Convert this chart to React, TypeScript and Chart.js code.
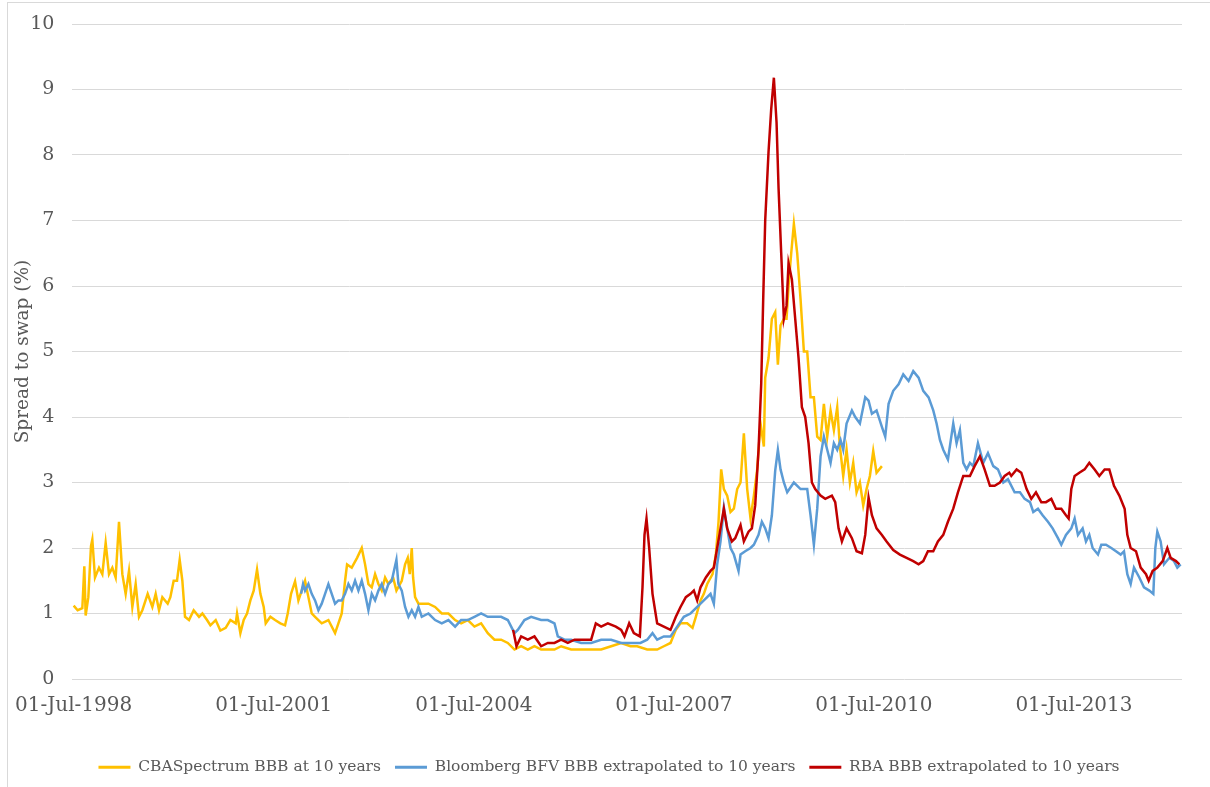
import { useEffect, useRef } from "react"
import { Chart, registerables } from "chart.js"

Chart.register(...registerables)

// x axis: decimal years, labelled every three years
const xTickYears = [1998.5, 2001.5, 2004.5, 2007.5, 2010.5, 2013.5]
const xTickLabels = ["01-Jul-1998", "01-Jul-2001", "01-Jul-2004", "01-Jul-2007", "01-Jul-2010", "01-Jul-2013"]

const seriesLabels = [
  "CBASpectrum BBB at 10 years",
  "Bloomberg BFV BBB extrapolated to 10 years",
  "RBA BBB extrapolated to 10 years",
]

const cbaYears = [
  1998.5, 1998.56, 1998.63, 1998.66, 1998.68, 1998.72, 1998.76, 1998.78, 1998.82, 1998.88, 1998.93, 1998.98,
  1999.03, 1999.08, 1999.13, 1999.18, 1999.23, 1999.28, 1999.33, 1999.38, 1999.43, 1999.48, 1999.53, 1999.61,
  1999.68, 1999.73, 1999.78, 1999.83, 1999.91, 1999.95, 2000.0, 2000.05, 2000.09, 2000.13, 2000.17, 2000.23,
  2000.3, 2000.38, 2000.43, 2000.5, 2000.55, 2000.63, 2000.7, 2000.78, 2000.85, 2000.93, 2000.95, 2001.0,
  2001.05, 2001.1, 2001.15, 2001.2, 2001.25, 2001.3, 2001.35, 2001.38, 2001.45, 2001.52, 2001.6, 2001.67,
  2001.71, 2001.76, 2001.82, 2001.87, 2001.92, 2001.97, 2002.02, 2002.07, 2002.12, 2002.17, 2002.22, 2002.32,
  2002.42, 2002.47, 2002.52, 2002.57, 2002.6, 2002.67, 2002.75, 2002.82, 2002.87, 2002.92, 2002.97, 2003.02,
  2003.07, 2003.12, 2003.17, 2003.22, 2003.29, 2003.34, 2003.42, 2003.47, 2003.51, 2003.54, 2003.57, 2003.59,
  2003.62, 2003.67, 2003.72, 2003.82, 2003.92, 2004.02, 2004.12, 2004.22, 2004.31, 2004.41, 2004.51, 2004.61,
  2004.71, 2004.81, 2004.91, 2005.01, 2005.11, 2005.21, 2005.31, 2005.41, 2005.51, 2005.61, 2005.71, 2005.81,
  2005.96, 2006.11, 2006.26, 2006.41, 2006.56, 2006.71, 2006.85, 2006.95, 2007.1, 2007.25, 2007.35, 2007.45,
  2007.53, 2007.6, 2007.7, 2007.78, 2007.83, 2007.9, 2007.95, 2008.0, 2008.08, 2008.13, 2008.17, 2008.21,
  2008.25, 2008.3, 2008.35, 2008.4, 2008.45, 2008.5, 2008.55, 2008.6, 2008.65, 2008.7, 2008.75, 2008.8,
  2008.85, 2008.87, 2008.92, 2008.97, 2009.02, 2009.06, 2009.1, 2009.15, 2009.19, 2009.22, 2009.26, 2009.3,
  2009.35, 2009.4, 2009.45, 2009.5, 2009.55, 2009.6, 2009.65, 2009.7, 2009.75, 2009.8, 2009.85, 2009.9,
  2009.95, 2009.99, 2010.04, 2010.09, 2010.14, 2010.19, 2010.24, 2010.29, 2010.34, 2010.39, 2010.44, 2010.49,
  2010.54, 2010.62,
]
const cbaSpread = [
  1.12, 1.05, 1.08, 1.72, 0.97, 1.25, 2.03, 2.13, 1.55, 1.7, 1.6, 2.08,
  1.6, 1.7, 1.55, 2.4, 1.6, 1.3, 1.65, 1.1, 1.45, 0.95, 1.05, 1.3,
  1.1, 1.3, 1.05, 1.25, 1.15, 1.25, 1.5, 1.5, 1.82, 1.5, 0.95, 0.9,
  1.05, 0.95, 1.0, 0.9, 0.82, 0.9, 0.74, 0.78, 0.9, 0.85, 1.0, 0.7,
  0.9, 1.0, 1.2, 1.35, 1.67, 1.3, 1.1, 0.85, 0.95, 0.9, 0.85, 0.82,
  1.0, 1.3, 1.49, 1.2, 1.35, 1.5, 1.25, 1.0, 0.95, 0.9, 0.85, 0.9,
  0.7, 0.85, 1.0, 1.5, 1.75, 1.7, 1.85, 2.0, 1.75, 1.45, 1.4, 1.6,
  1.45, 1.35, 1.55, 1.45, 1.55, 1.35, 1.5, 1.75, 1.85, 1.6, 2.0, 1.55,
  1.25, 1.15, 1.15, 1.15, 1.1, 1.0, 1.0, 0.9, 0.85, 0.9, 0.8, 0.85,
  0.7, 0.6, 0.6, 0.55, 0.45, 0.5, 0.45, 0.5, 0.45, 0.45, 0.45, 0.5,
  0.45, 0.45, 0.45, 0.45, 0.5, 0.55, 0.5, 0.5, 0.45, 0.45, 0.5, 0.55,
  0.75, 0.85, 0.85, 0.78, 0.95, 1.2, 1.3, 1.45, 1.6, 1.9, 2.4, 3.2,
  2.9, 2.8, 2.55, 2.6, 2.9, 3.0, 3.75, 2.9, 2.45, 2.8, 3.2, 3.9,
  3.55, 4.6, 4.9, 5.5, 5.6, 4.8, 5.4, 5.5, 5.5, 6.0, 6.5, 6.95,
  6.5, 5.8, 5.0, 5.0, 4.3, 4.3, 3.7, 3.65, 4.2, 3.7, 4.1, 3.8,
  4.15, 3.55, 3.1, 3.5, 3.0, 3.3, 2.85, 3.0, 2.65, 2.9, 3.1, 3.48,
  3.15, 3.25,
]

const bbgYears = [
  2001.91, 2001.94, 2001.97, 2002.02, 2002.07, 2002.12, 2002.17, 2002.22, 2002.27, 2002.32, 2002.37, 2002.42,
  2002.47, 2002.52, 2002.57, 2002.62, 2002.67, 2002.72, 2002.77, 2002.82, 2002.87, 2002.92, 2002.97, 2003.02,
  2003.07, 2003.12, 2003.17, 2003.22, 2003.27, 2003.34, 2003.37, 2003.42, 2003.47, 2003.52, 2003.57, 2003.62,
  2003.67, 2003.72, 2003.82, 2003.92, 2004.02, 2004.12, 2004.22, 2004.31, 2004.41, 2004.51, 2004.61, 2004.71,
  2004.81, 2004.91, 2005.01, 2005.11, 2005.16, 2005.26, 2005.36, 2005.51, 2005.61, 2005.71, 2005.76, 2005.86,
  2005.96, 2006.11, 2006.26, 2006.41, 2006.56, 2006.71, 2006.85, 2007.0, 2007.1, 2007.18, 2007.25, 2007.35,
  2007.45, 2007.55, 2007.65, 2007.75, 2007.85, 2007.95, 2008.05, 2008.1, 2008.15, 2008.2, 2008.25, 2008.3,
  2008.35, 2008.4, 2008.47, 2008.5, 2008.57, 2008.65, 2008.7, 2008.77, 2008.82, 2008.87, 2008.92, 2008.97,
  2009.02, 2009.06, 2009.1, 2009.15, 2009.2, 2009.3, 2009.4, 2009.5, 2009.55, 2009.6, 2009.65, 2009.7,
  2009.75, 2009.8, 2009.85, 2009.9, 2009.95, 2010.0, 2010.04, 2010.09, 2010.17, 2010.22, 2010.29, 2010.37,
  2010.42, 2010.47, 2010.54, 2010.62, 2010.67, 2010.72, 2010.79, 2010.87, 2010.94, 2011.02, 2011.09, 2011.17,
  2011.24, 2011.32, 2011.39, 2011.44, 2011.49, 2011.54, 2011.61, 2011.69, 2011.74, 2011.79, 2011.84, 2011.89,
  2011.94, 2011.99, 2012.06, 2012.14, 2012.21, 2012.29, 2012.36, 2012.44, 2012.51, 2012.61, 2012.69, 2012.76,
  2012.84, 2012.89, 2012.96, 2013.03, 2013.11, 2013.18, 2013.26, 2013.31, 2013.38, 2013.46, 2013.51, 2013.56,
  2013.63, 2013.68, 2013.73, 2013.78, 2013.86, 2013.91, 2013.98, 2014.06, 2014.13, 2014.2, 2014.25, 2014.3,
  2014.35, 2014.4, 2014.48, 2014.55, 2014.63, 2014.69, 2014.72, 2014.75, 2014.8, 2014.85, 2014.93, 2015.0,
  2015.05, 2015.1,
]
const bbgSpread = [
  1.3, 1.45, 1.35, 1.45, 1.3, 1.2, 1.05, 1.15, 1.3, 1.45, 1.3, 1.15,
  1.2, 1.2, 1.3, 1.45, 1.35, 1.5, 1.35, 1.5, 1.3, 1.05, 1.3, 1.2,
  1.35, 1.45, 1.3, 1.45, 1.5, 1.82, 1.45, 1.35, 1.1, 0.95, 1.05, 0.95,
  1.1, 0.95, 1.0, 0.9, 0.85, 0.9, 0.8, 0.9, 0.9, 0.95, 1.0, 0.95,
  0.95, 0.95, 0.9, 0.7, 0.75, 0.9, 0.95, 0.9, 0.9, 0.85, 0.65, 0.6,
  0.6, 0.55, 0.55, 0.6, 0.6, 0.55, 0.55, 0.55, 0.6, 0.7, 0.6, 0.65,
  0.65, 0.8, 0.95, 1.0, 1.1, 1.2, 1.3, 1.15, 1.75, 2.1, 2.62, 2.3,
  2.0, 1.9, 1.65, 1.9, 1.95, 2.0, 2.05, 2.2, 2.4, 2.3, 2.15, 2.5,
  3.18, 3.5, 3.2, 3.0, 2.85, 3.0, 2.9, 2.9, 2.5, 2.05, 2.6, 3.4,
  3.7, 3.5, 3.3, 3.6, 3.5, 3.65, 3.5, 3.9, 4.1, 4.0, 3.9, 4.3,
  4.25, 4.05, 4.1, 3.85, 3.7, 4.2, 4.4, 4.5, 4.65, 4.55, 4.7, 4.6,
  4.4, 4.3, 4.1, 3.9, 3.65, 3.5, 3.35, 3.9, 3.6, 3.8, 3.3, 3.2,
  3.3, 3.25, 3.6, 3.3, 3.45, 3.25, 3.2, 3.0, 3.05, 2.85, 2.85, 2.75,
  2.7, 2.55, 2.6, 2.5, 2.4, 2.3, 2.15, 2.05, 2.2, 2.3, 2.45, 2.2,
  2.3, 2.1, 2.2, 2.0, 1.9, 2.05, 2.05, 2.0, 1.95, 1.9, 1.95, 1.6,
  1.45, 1.7, 1.55, 1.4, 1.35, 1.3, 2.0, 2.25, 2.1, 1.75, 1.85, 1.8,
  1.7, 1.75,
]

const rbaYears = [
  2005.09, 2005.14, 2005.21, 2005.31, 2005.41, 2005.51, 2005.61, 2005.71, 2005.81, 2005.91, 2006.01, 2006.11,
  2006.26, 2006.33, 2006.41, 2006.51, 2006.63, 2006.71, 2006.76, 2006.83, 2006.9, 2006.99, 2007.03, 2007.06,
  2007.09, 2007.13, 2007.18, 2007.25, 2007.35, 2007.45, 2007.53, 2007.6, 2007.68, 2007.75, 2007.8, 2007.85,
  2007.9, 2007.98, 2008.05, 2008.1, 2008.15, 2008.2, 2008.25, 2008.3, 2008.37, 2008.42, 2008.5, 2008.55,
  2008.62, 2008.67, 2008.72, 2008.77, 2008.81, 2008.84, 2008.87, 2008.92, 2008.96, 2009.0, 2009.04, 2009.07,
  2009.11, 2009.15, 2009.19, 2009.22, 2009.27, 2009.32, 2009.37, 2009.42, 2009.47, 2009.52, 2009.57, 2009.62,
  2009.7, 2009.77, 2009.87, 2009.92, 2009.97, 2010.02, 2010.09, 2010.17, 2010.24, 2010.32, 2010.37, 2010.42,
  2010.47, 2010.54, 2010.62, 2010.69, 2010.79, 2010.89, 2010.99, 2011.09, 2011.17, 2011.24, 2011.31, 2011.39,
  2011.46, 2011.54, 2011.61, 2011.69, 2011.76, 2011.84, 2011.94, 2012.01, 2012.09, 2012.16, 2012.24, 2012.31,
  2012.39, 2012.46, 2012.53, 2012.56, 2012.64, 2012.71, 2012.79, 2012.86, 2012.93, 2013.01, 2013.08, 2013.16,
  2013.23, 2013.31, 2013.38, 2013.42, 2013.46, 2013.51, 2013.58, 2013.66, 2013.73, 2013.81, 2013.88, 2013.96,
  2014.03, 2014.1, 2014.18, 2014.26, 2014.3, 2014.35, 2014.43, 2014.5, 2014.58, 2014.62, 2014.68, 2014.75,
  2014.83, 2014.9, 2014.95, 2015.03, 2015.08,
]
const rbaSpread = [
  0.75, 0.5, 0.65, 0.6, 0.65, 0.5, 0.55, 0.55, 0.6, 0.55, 0.6, 0.6,
  0.6, 0.85, 0.8, 0.85, 0.8, 0.75, 0.65, 0.85, 0.7, 0.65, 1.4, 2.2,
  2.45, 2.0, 1.3, 0.85, 0.8, 0.75, 0.95, 1.1, 1.25, 1.3, 1.35, 1.2,
  1.4, 1.55, 1.65, 1.7, 2.0, 2.3, 2.6, 2.3, 2.1, 2.15, 2.35, 2.1,
  2.25, 2.3, 2.65, 3.5, 4.5, 5.8, 7.0, 8.05, 8.7, 9.18, 8.5, 7.5,
  6.5, 5.5, 5.7, 6.35, 6.1, 5.5, 4.9, 4.15, 4.0, 3.6, 3.0, 2.9,
  2.8, 2.75, 2.8, 2.7, 2.3, 2.1, 2.3, 2.15, 1.95, 1.92, 2.2, 2.77,
  2.5, 2.3, 2.2, 2.1, 1.97, 1.9, 1.85, 1.8, 1.75, 1.8, 1.95, 1.95,
  2.1, 2.2, 2.4, 2.6, 2.85, 3.1, 3.1, 3.25, 3.4, 3.2, 2.95, 2.95,
  3.0, 3.1, 3.15, 3.1, 3.2, 3.15, 2.9, 2.75, 2.85, 2.7, 2.7, 2.75,
  2.6, 2.6, 2.5, 2.45, 2.9, 3.1, 3.15, 3.2, 3.3, 3.2, 3.1, 3.2,
  3.2, 2.95, 2.8, 2.6, 2.2, 2.0, 1.95, 1.7, 1.6, 1.5, 1.65, 1.7,
  1.8, 2.0, 1.85, 1.8, 1.75,
]

const seriesColors = ["#FFC000", "#5B9BD5", "#C00000"]

const toPoints = (xs: number[], ys: number[]) => xs.map((x, i) => ({ x, y: ys[i] }))

const FONT = "'DejaVu Serif', serif"
const GREY = "#595959"

function SpreadChart() {
  const chartRef = useRef<HTMLCanvasElement>(null)
  const chartInstance = useRef<Chart | null>(null)

  useEffect(() => {
    if (!chartRef.current) return
    const ctx = chartRef.current.getContext("2d")
    if (!ctx) return

    if (chartInstance.current) {
      chartInstance.current.destroy()
    }

    const series = [toPoints(cbaYears, cbaSpread), toPoints(bbgYears, bbgSpread), toPoints(rbaYears, rbaSpread)]

    chartInstance.current = new Chart(ctx, {
      type: "line",
      data: {
        datasets: series.map((data, i) => ({
          label: seriesLabels[i],
          data,
          borderColor: seriesColors[i],
          backgroundColor: seriesColors[i],
          borderWidth: 2.5,
          pointRadius: 0,
          tension: 0,
          // red drawn on top, yellow at the bottom
          order: 2 - i,
        })),
      },
      options: {
        animation: false,
        responsive: true,
        maintainAspectRatio: false,
        layout: {
          padding: { left: 0, right: 0, top: 21, bottom: 2 },
        },
        plugins: {
          tooltip: { enabled: false },
          legend: {
            position: "bottom",
            labels: {
              boxWidth: 32,
              boxHeight: 3,
              padding: 14,
              color: GREY,
              font: { family: FONT, size: 15.5 },
              generateLabels: (chart) =>
                Chart.defaults.plugins.legend.labels
                  .generateLabels(chart)
                  .map((item) => ({ ...item, fillStyle: item.strokeStyle, lineWidth: 0 }))
                  .sort((a, b) => (a.datasetIndex ?? 0) - (b.datasetIndex ?? 0)),
            },
          },
        },
        scales: {
          x: {
            type: "linear",
            min: 1998.48,
            max: 2015.12,
            grid: { display: false },
            border: { display: false },
            afterBuildTicks: (scale) => {
              scale.ticks = xTickYears.map((value) => ({ value }))
            },
            afterFit: (scale) => {
              scale.height = 66.5
            },
            ticks: {
              autoSkip: false,
              maxRotation: 0,
              padding: 7,
              color: GREY,
              font: { family: FONT, size: 20 },
              callback: (_value, index) => xTickLabels[index],
            },
          },
          y: {
            min: 0,
            max: 10,
            grid: { color: "#D9D9D9", lineWidth: 1, drawTicks: false },
            border: { display: false },
            afterFit: (scale) => {
              scale.width = 62
              scale.paddingTop = 0
              scale.paddingBottom = 0
            },
            ticks: {
              stepSize: 1,
              padding: 18,
              color: GREY,
              font: { family: FONT, size: 19 },
            },
            title: {
              display: true,
              text: "Spread to swap (%)",
              color: GREY,
              padding: { top: 2, bottom: 0 },
              font: { family: FONT, size: 18.5 },
            },
          },
          // empty right-hand gutter so the plot stops where the reference does
          gutter: {
            type: "linear",
            position: "right",
            display: true,
            grid: { display: false },
            border: { display: false },
            ticks: { display: false },
            afterFit: (scale) => {
              scale.width = 28
              scale.paddingTop = 0
              scale.paddingBottom = 0
            },
          },
        },
      },
    })

    return () => {
      if (chartInstance.current) {
        chartInstance.current.destroy()
        chartInstance.current = null
      }
    }
  }, [])

  return <canvas ref={chartRef} />
}

export default function App() {
  return (
    <div
      style={{
        position: "absolute",
        left: 7,
        top: 2,
        width: 1203,
        height: 785,
        boxSizing: "border-box",
        borderTop: "1px solid #D9D9D9",
        borderLeft: "1px solid #D9D9D9",
        background: "#fff",
      }}
    >
      <div style={{ position: "relative", width: "100%", height: "100%" }}>
        <SpreadChart />
      </div>
    </div>
  )
}
